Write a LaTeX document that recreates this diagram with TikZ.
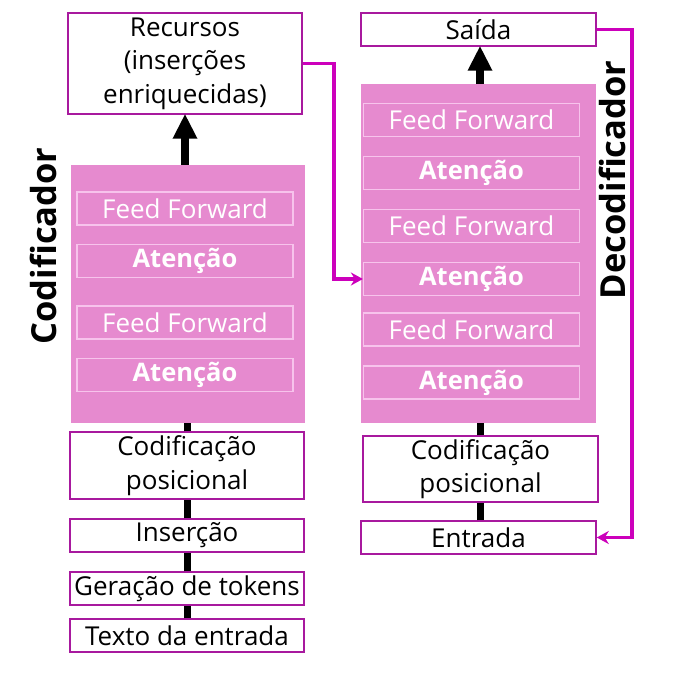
\documentclass[tikz,border=0pt]{standalone}
\usepackage{fontspec}
\setmainfont{Open Sans}
\usetikzlibrary{arrows.meta}
\definecolor{mag}{HTML}{CC00BB}
\definecolor{boxline}{HTML}{A8199E}
\definecolor{pinkfill}{HTML}{E68ACF}
\definecolor{innerline}{HTML}{F7C3EC}
\begin{document}
\begin{tikzpicture}[x=1pt,y=-1pt,
  wbox/.style={draw=boxline,line width=1.5pt,fill=white,inner sep=0pt,align=center,font=\fontsize{26}{33.5}\selectfont,text=black},
  block/.style={fill=pinkfill,draw=none,inner sep=0pt},
  layer/.style={draw=innerline,line width=1.2pt,inner sep=0pt,text=white,font=\fontsize{26}{30}\selectfont,minimum width=216pt,minimum height=33pt},
  bold/.style={font=\bfseries\fontsize{25.5}{30}\selectfont},
  blk/.style={line width=7pt,black},
  bigarrow/.style={line width=8pt,black,-{Triangle[length=25pt,width=23pt]},shorten >=-1pt},
  magline/.style={draw=mag,line width=3.5pt,-{Stealth[length=12pt,width=13pt]}},
  side/.style={font=\bfseries\fontsize{34.5}{38}\selectfont,rotate=90}
]
\useasboundingbox (0,0) rectangle (693,690);
% left column
\node[block,minimum width=234pt,minimum height=258pt] (enc) at (188,294) {};
\node[wbox,minimum width=234pt,minimum height=101pt] (rec) at (185,63.5) {Recursos\\(inserções\\enriquecidas)};
\node[wbox,minimum width=234pt,minimum height=67pt] (cpe) at (187,465.5) {Codificação\\posicional};
\node[wbox,minimum width=234pt,minimum height=33pt] (ins) at (187,535.5) {Inserção};
\node[wbox,minimum width=234pt,minimum height=33pt] (gen) at (187,588.5) {Geração de tokens};
\node[wbox,minimum width=234pt,minimum height=33pt] (txt) at (187,635.5) {Texto da entrada};
\node[layer] (eff1) at (185,208.5) {Feed Forward};
\node[layer,bold] (eat1) at (185,261) {Atenção};
\node[layer] (eff2) at (185,322.5) {Feed Forward};
\node[layer,bold] (eat2) at (185,375) {Atenção};
% right column
\node[block,minimum width=235pt,minimum height=339pt] (dec) at (478.5,253.5) {};
\node[wbox,minimum width=235pt,minimum height=33pt] (say) at (478.5,29.5) {Saída};
\node[wbox,minimum width=235pt,minimum height=66pt] (cpd) at (480.5,469) {Codificação\\posicional};
\node[wbox,minimum width=235pt,minimum height=33pt] (ent) at (478.5,537.5) {Entrada};
\node[layer] (dff1) at (471.5,120) {Feed Forward};
\node[layer,bold] (dat1) at (471.5,173) {Atenção};
\node[layer] (dff2) at (471.5,226) {Feed Forward};
\node[layer,bold] (dat2) at (471.5,279) {Atenção};
\node[layer] (dff3) at (471.5,329.5) {Feed Forward};
\node[layer,bold] (dat3) at (471.5,382.5) {Atenção};
% labels
\node[side] (lenc) at (43,246) {Codificador};
\node[side] (ldec) at (612,180) {Decodificador};
% black connectors
\draw[blk] (txt.north) -- (gen.south);
\draw[blk] (gen.north) -- (ins.south);
\draw[blk] (ins.north) -- (cpe.south);
\draw[blk] (cpe.north) -- (cpe.north |- enc.south);
\draw[bigarrow] (enc.north -| rec.south) -- (rec.south);
\draw[blk] (ent.north -| cpd.north) -- (cpd.south);
\draw[blk] (cpd.north) -- (cpd.north |- dec.south);
\draw[bigarrow] (dec.north -| 480,0) -- (say.south -| 480,0);
% magenta connectors
\draw[magline] (rec.east) -- ++(31,0) |- (dat2.west);
\draw[magline] (say.east) -- ++(35,0) |- (ent.east);
\end{tikzpicture}
\end{document}
